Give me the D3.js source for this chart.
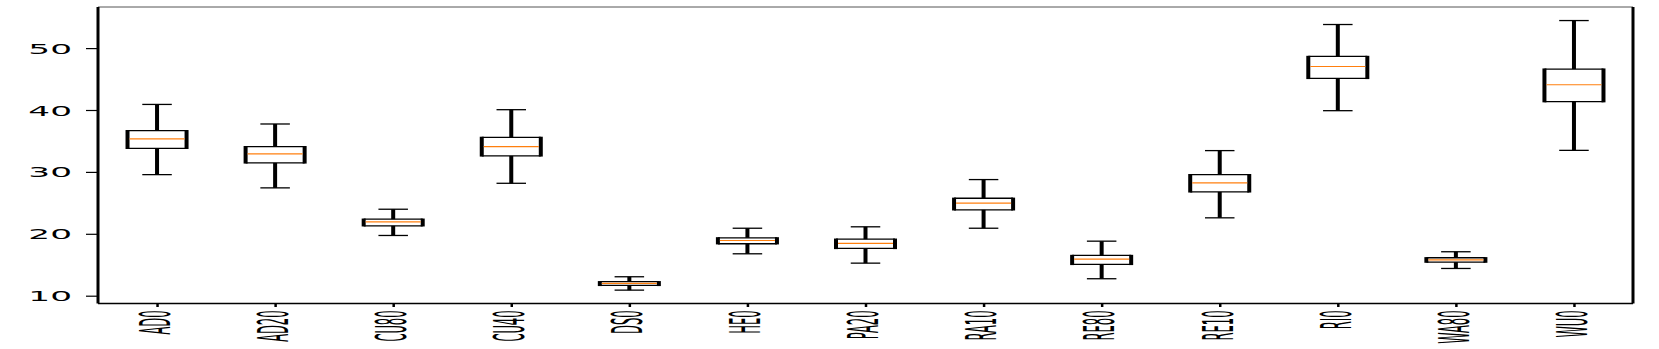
<!DOCTYPE html>
<html>
<head>
<meta charset="utf-8">
<script src="https://cdn.jsdelivr.net/npm/d3@7"></script>
<style>
  body { margin: 0; background: #fff; }
  svg { display: block; }
</style>
</head>
<body>
<div id="chart"></div>
<script>
// Box statistics
const categories = ["AD0", "AD20", "CU80", "CU40", "DS0", "HE0", "PA20", "RA10", "RE80", "RE10", "RI0", "WA80", "WU0"];
const whiskerLow  = [29.56, 27.42, 19.73, 28.16, 10.90, 16.77, 15.26, 20.90, 12.74, 22.58, 39.89, 14.40, 33.48];
const q1          = [33.80, 31.45, 21.29, 32.58, 11.66, 18.39, 17.63, 23.87, 15.05, 26.77, 45.10, 15.42, 41.34];
const median      = [35.32, 32.90, 21.94, 34.08, 11.98, 18.92, 18.44, 24.94, 15.90, 28.23, 47.03, 15.80, 44.08];
const q3          = [36.66, 34.08, 22.36, 35.58, 12.26, 19.35, 19.13, 25.74, 16.50, 29.56, 48.65, 16.13, 46.61];
const whiskerHigh = [40.90, 37.74, 23.97, 40.05, 13.06, 20.90, 21.13, 28.76, 18.81, 33.44, 53.81, 17.10, 54.45];
const yTicks = [10, 20, 30, 40, 50];

const width = 1659;
const height = 349;
const margin = { top: 7, right: 26, bottom: 45.5, left: 98 };

const boxes = categories.map((c, i) => ({
    name: c,
    lo: whiskerLow[i], q1: q1[i], med: median[i], q3: q3[i], hi: whiskerHigh[i]
}));

const svg = d3.select("#chart")
    .append("svg")
    .attr("width", width)
    .attr("height", height);

svg.append("rect")
    .attr("width", width)
    .attr("height", height)
    .attr("fill", "#fff");

// Scales
const x = d3.scalePoint()
    .domain(categories)
    .range([margin.left, width - margin.right])
    .padding(0.5);

const y = d3.scaleLinear()
    .domain([8.74, 56.64])
    .range([height - margin.bottom, margin.top]);

const step = x.step();
const boxW = step * 0.5;
const capW = boxW * 0.5;

// the figure is stretched sideways, so vertical strokes are thick and horizontal ones thin
const thickV = 4;
const thinH = 1.3;

const g = svg.append("g");

const box = g.selectAll("g.box")
    .data(boxes)
    .enter()
    .append("g")
    .attr("class", "box");

// whiskers
box.append("line")
    .attr("x1", d => x(d.name)).attr("x2", d => x(d.name))
    .attr("y1", d => y(d.hi)).attr("y2", d => y(d.q3))
    .attr("stroke", "#000").attr("stroke-width", thickV);
box.append("line")
    .attr("x1", d => x(d.name)).attr("x2", d => x(d.name))
    .attr("y1", d => y(d.q1)).attr("y2", d => y(d.lo))
    .attr("stroke", "#000").attr("stroke-width", thickV);

// caps
box.append("line")
    .attr("x1", d => x(d.name) - capW / 2).attr("x2", d => x(d.name) + capW / 2)
    .attr("y1", d => y(d.hi)).attr("y2", d => y(d.hi))
    .attr("stroke", "#000").attr("stroke-width", thinH);
box.append("line")
    .attr("x1", d => x(d.name) - capW / 2).attr("x2", d => x(d.name) + capW / 2)
    .attr("y1", d => y(d.lo)).attr("y2", d => y(d.lo))
    .attr("stroke", "#000").attr("stroke-width", thinH);

// box top / bottom
box.append("line")
    .attr("x1", d => x(d.name) - boxW / 2).attr("x2", d => x(d.name) + boxW / 2)
    .attr("y1", d => y(d.q3)).attr("y2", d => y(d.q3))
    .attr("stroke", "#000").attr("stroke-width", thinH);
box.append("line")
    .attr("x1", d => x(d.name) - boxW / 2).attr("x2", d => x(d.name) + boxW / 2)
    .attr("y1", d => y(d.q1)).attr("y2", d => y(d.q1))
    .attr("stroke", "#000").attr("stroke-width", thinH);

// box sides
box.append("line")
    .attr("x1", d => x(d.name) - boxW / 2).attr("x2", d => x(d.name) - boxW / 2)
    .attr("y1", d => y(d.q3) - thinH / 2).attr("y2", d => y(d.q1) + thinH / 2)
    .attr("stroke", "#000").attr("stroke-width", thickV);
box.append("line")
    .attr("x1", d => x(d.name) + boxW / 2).attr("x2", d => x(d.name) + boxW / 2)
    .attr("y1", d => y(d.q3) - thinH / 2).attr("y2", d => y(d.q1) + thinH / 2)
    .attr("stroke", "#000").attr("stroke-width", thickV);

// medians
box.append("line")
    .attr("x1", d => x(d.name) - boxW / 2 + 2).attr("x2", d => x(d.name) + boxW / 2 - 2)
    .attr("y1", d => y(d.med)).attr("y2", d => y(d.med))
    .attr("stroke", "#ff7f0e").attr("stroke-width", 1.2);

// Axes
const yAxis = svg.append("g")
    .attr("transform", `translate(${margin.left},0)`)
    .call(d3.axisLeft(y).tickValues(yTicks).tickSize(12).tickPadding(0));
yAxis.select(".domain").remove();
yAxis.selectAll(".tick line").attr("stroke", "#000").attr("stroke-width", 1.2);
yAxis.selectAll(".tick text")
    .attr("x", null)
    .attr("dy", "0.36em")
    .attr("text-anchor", "end")
    .attr("transform", "translate(-26,0) scale(2.45,1)")
    .attr("font-family", "DejaVu Sans")
    .attr("font-size", 14)
    .attr("fill", "#000");

const xAxis = svg.append("g")
    .attr("transform", `translate(0,${height - margin.bottom})`)
    .call(d3.axisBottom(x).tickSize(3.5).tickPadding(0));
xAxis.select(".domain").remove();
xAxis.selectAll(".tick line").attr("stroke", "#000").attr("stroke-width", 2.5);
xAxis.selectAll(".tick text")
    .attr("y", null)
    .attr("dy", "0.36em")
    .attr("text-anchor", "end")
    .attr("transform", "translate(-3,7) scale(3.7,1) rotate(-90)")
    .attr("font-family", "DejaVu Sans")
    .attr("font-size", 11.5)
    .attr("fill", "#000");

// Spines
const x0 = margin.left, x1 = width - margin.right;
const y0 = margin.top, y1 = height - margin.bottom;
svg.append("line").attr("x1", x0).attr("x2", x1).attr("y1", y0).attr("y2", y0)
    .attr("stroke", "#555").attr("stroke-width", 1);
svg.append("line").attr("x1", x0).attr("x2", x1).attr("y1", y1).attr("y2", y1)
    .attr("stroke", "#000").attr("stroke-width", 1.5);
svg.append("line").attr("x1", x0).attr("x2", x0).attr("y1", y0).attr("y2", y1)
    .attr("stroke", "#000").attr("stroke-width", 3);
svg.append("line").attr("x1", x1).attr("x2", x1).attr("y1", y0).attr("y2", y1)
    .attr("stroke", "#000").attr("stroke-width", 3);
</script>
</body>
</html>
